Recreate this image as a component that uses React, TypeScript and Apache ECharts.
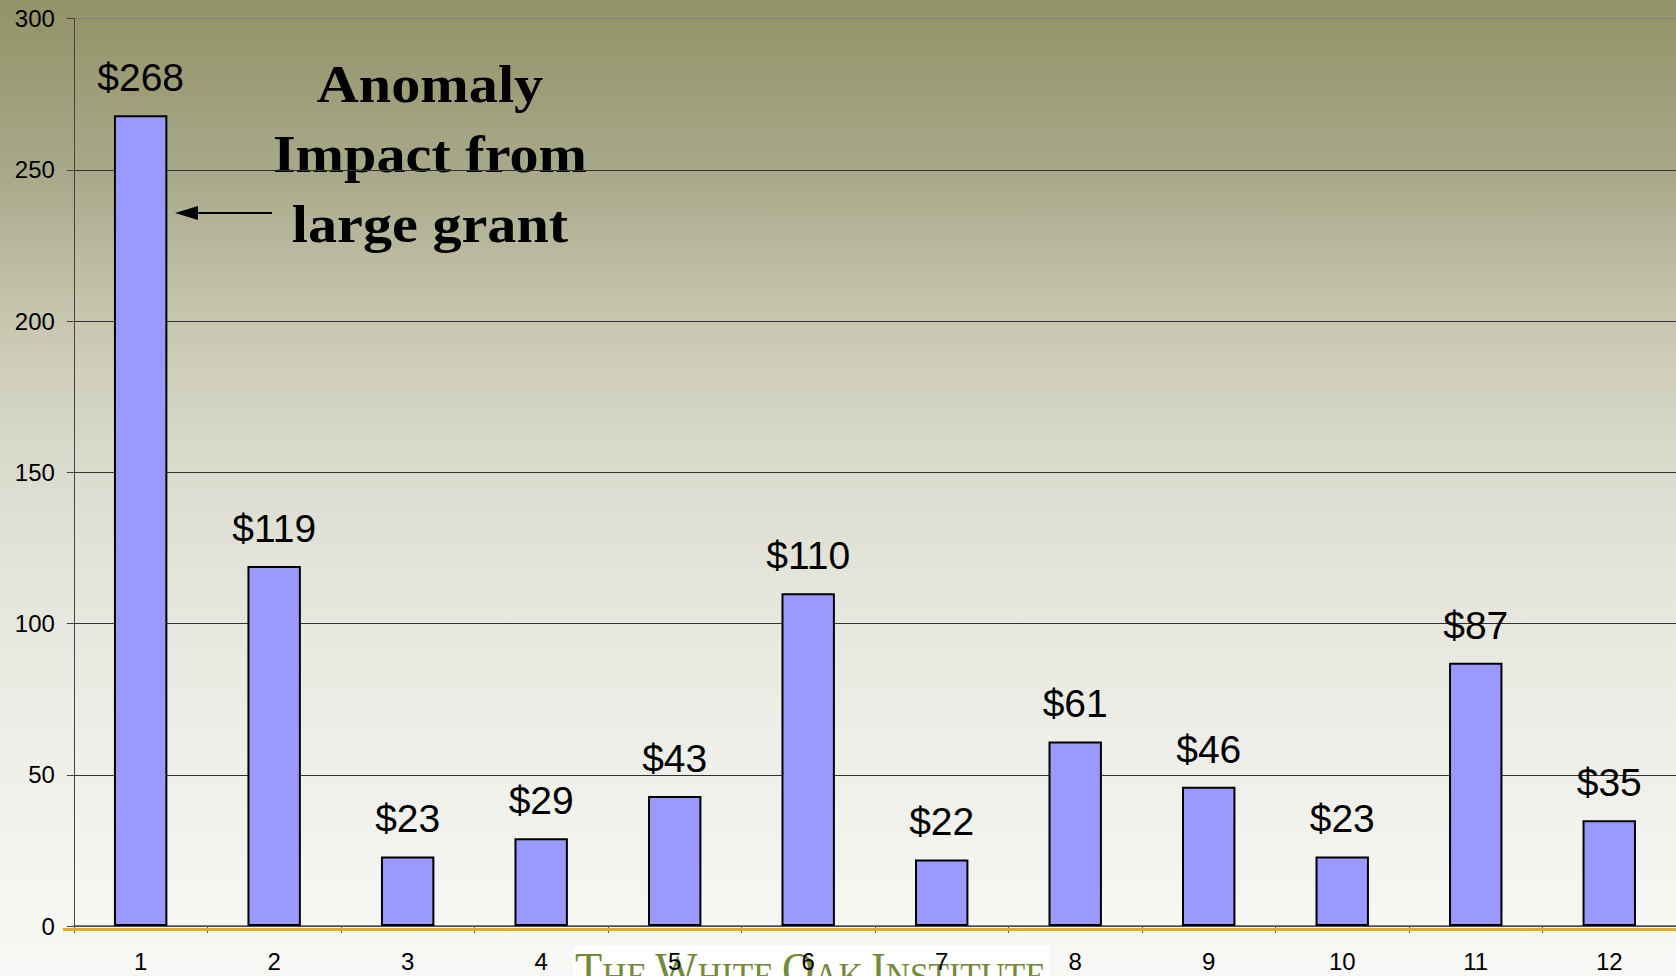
import React, { useEffect, useRef } from "react";
import * as echarts from "echarts";

const categories = ["1", "2", "3", "4", "5", "6", "7", "8", "9", "10", "11", "12"];
const values = [268, 119, 23, 29, 43, 110, 22, 61, 46, 23, 87, 35];
const yTicks = { min: 0, max: 300, interval: 50 };
const annotationLines = ["Anomaly", "Impact from", "large grant"];

export default function App() {
  const ref = useRef<HTMLDivElement>(null);
  useEffect(() => {
    document.body.style.margin = "0";
    const chart = echarts.init(ref.current!, null, { renderer: "svg" });
    const gridLeft = 73.9;
    const catW = 133.9;
    chart.setOption({
      animation: false,
      backgroundColor: {
        type: "linear",
        x: 0, y: 0, x2: 0, y2: 1,
        colorStops: [
          { offset: 0, color: "#929366" },
          { offset: 0.18, color: "#a8a98a" },
          { offset: 0.32, color: "#c6c6ae" },
          { offset: 0.46, color: "#d9d9cb" },
          { offset: 0.6, color: "#e5e5dc" },
          { offset: 0.75, color: "#eeeee8" },
          { offset: 1, color: "#f8f8f6" },
        ],
      },
      grid: { left: gridLeft, top: 18.5, width: catW * categories.length, height: 907.5 },
      xAxis: {
        type: "category",
        data: categories,
        axisLine: { lineStyle: { color: "#555", width: 1.5 } },
        axisTick: { show: true, length: 7, lineStyle: { color: "#555" } },
        axisLabel: { color: "#000", fontSize: 24, fontFamily: "Liberation Sans, Arial", margin: 23 },
      },
      yAxis: {
        type: "value",
        min: yTicks.min,
        max: yTicks.max,
        interval: yTicks.interval,
        axisLine: { show: true, lineStyle: { color: "#444", width: 1 } },
        axisTick: { show: true, length: 7, lineStyle: { color: "#444" } },
        axisLabel: { color: "#000", fontSize: 24, fontFamily: "Liberation Sans, Arial", margin: 19 },
        splitLine: {
          show: true,
          lineStyle: { color: ["#333", "#333", "#333", "#333", "#333", "#333", "#7e8080"], width: 1 },
        },
      },
      series: [
        {
          type: "bar",
          data: values,
          barWidth: "40%",
          itemStyle: { color: "#9999ff", borderColor: "#000", borderWidth: 2 },
          label: {
            show: true,
            position: "top",
            distance: 18,
            formatter: (p: any) => "$" + p.value,
            color: "#000",
            fontSize: 39,
            fontFamily: "Liberation Sans, Arial",
          },
        },
      ],
      graphic: [
        {
          type: "rect",
          z: 5,
          shape: { x: 63, y: 928, width: 1700, height: 3 },
          style: { fill: "#e8ac22" },
        },
        {
          type: "rect",
          z: -1,
          shape: { x: 573, y: 946, width: 476, height: 40 },
          style: { fill: "#ffffff" },
        },
        {
          type: "text",
          z: -1,
          x: 575,
          y: 946,
          scaleX: 0.93,
          style: {
            text: "{b|T}{s|HE }{b|W}{s|HITE }{b|O}{s|AK }{b|I}{s|NSTITUTE}",
            rich: {
              b: { fontSize: 48, fontFamily: "Liberation Serif, serif", fill: "#758a3a", verticalAlign: "bottom" },
              s: { fontSize: 36, fontFamily: "Liberation Serif, serif", fill: "#758a3a", verticalAlign: "bottom" },
            },
            verticalAlign: "top",
          },
        },
        ...annotationLines.map((t, i) => ({
          type: "text",
          x: 430,
          y: 59 + i * 70,
          scaleX: 1.12,
          style: {
            text: t,
            fontSize: 52,
            fontWeight: "bold",
            fontFamily: "Liberation Serif, Times New Roman, serif",
            fill: "#000",
            textAlign: "center",
            verticalAlign: "top",
          },
        })),
        {
          type: "line",
          shape: { x1: 190, y1: 213, x2: 272, y2: 213 },
          style: { stroke: "#000", lineWidth: 2 },
        },
        {
          type: "polygon",
          shape: { points: [[175, 213], [198, 206], [198, 220]] },
          style: { fill: "#000" },
        },
      ],
    });
    return () => chart.dispose();
  }, []);
  return <div ref={ref} style={{ width: 1676, height: 976, position: "absolute", left: 0, top: 0 }} />;
}
